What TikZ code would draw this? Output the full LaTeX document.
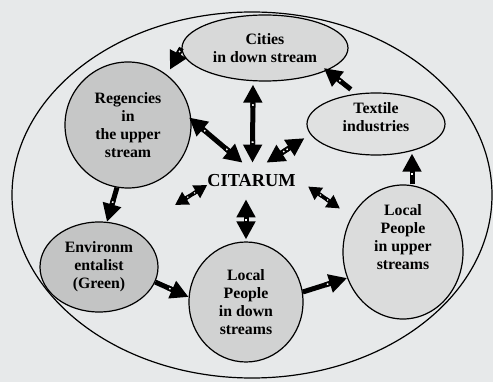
\documentclass[tikz,border=0pt]{standalone}
\usepackage{fontspec}
\setmainfont{Liberation Serif}
\usetikzlibrary{arrows.meta,shapes.geometric}
\definecolor{bg}{HTML}{E7E9EA}
\definecolor{cityc}{HTML}{D8D9D9}
\definecolor{regc}{HTML}{C6C7C7}
\definecolor{texc}{HTML}{E0E1E1}
\definecolor{envc}{HTML}{C3C4C4}
\definecolor{lpdc}{HTML}{D1D2D2}
\definecolor{lpuc}{HTML}{DBDCDC}
\begin{document}
\begin{tikzpicture}[x=1pt,y=-1pt,
  txt/.style={font=\bfseries\fontsize{15.8}{18}\selectfont, align=center, inner sep=0pt},
  blob/.style={draw=black, line width=1.2pt, inner sep=0pt, txt},
  arr/.style={line width=5pt, -{Rectangle[length=5pt,width=5pt,fill=white,line width=1.6pt] Triangle[length=18pt,width=18pt]}},
  darr/.style={line width=5pt, {Triangle[length=18pt,width=18pt] Rectangle[length=5pt,width=5pt,fill=white,line width=1.6pt]}-{Rectangle[length=5pt,width=5pt,fill=white,line width=1.6pt] Triangle[length=18pt,width=18pt]}},
  sdarr/.style={line width=3.8pt, {Triangle[length=13pt,width=14pt] Rectangle[length=4pt,width=3.8pt,fill=white,line width=1.2pt]}-{Rectangle[length=4pt,width=3.8pt,fill=white,line width=1.2pt] Triangle[length=13pt,width=14pt]}}
]
\fill[bg] (0,0) rectangle (493,382);
\useasboundingbox (0,0) rectangle (493,382);
\draw[line width=1.2pt] (252,195) ellipse [x radius=240pt, y radius=183pt];

\node[blob, ellipse, fill=cityc, minimum width=166pt, minimum height=66pt] (C) at (265,48) {Cities\\in down stream};
\node[blob, circle, fill=regc, minimum size=126pt] (R) at (128,125) {Regencies\\in\\the upper\\stream};
\node[blob, ellipse, fill=texc, minimum width=138pt, minimum height=62pt,
  label={[txt, yshift=7pt]center:{Textile\\industries}}] (T) at (376,124) {};
\node[blob, ellipse, fill=envc, minimum width=118pt, minimum height=90pt] (E) at (99,267) {Environm\\entalist\\(Green)};
\node[blob, ellipse, fill=lpdc, minimum width=114pt, minimum height=120pt] (D) at (246,302) {Local\\People\\in down\\streams};
\node[blob, ellipse, fill=lpuc, minimum width=120pt, minimum height=134pt,
  label={[txt, yshift=15pt]center:{Local\\People\\in upper\\streams}}] (U) at (403,252) {};
\node[font=\bfseries\fontsize{18.3}{20}\selectfont, inner xsep=0pt, inner ysep=12pt] (M) at (251.5,181) {CITARUM};
\coordinate (fl) at (175,205);

\draw[arr, shorten >=6pt] (C.west) -- (R.52);
\draw[arr, shorten <=7pt, shorten >=-4pt] (T.123) -- (C.-20);
\draw[darr, shorten <=-3pt] (R.5) -- ([xshift=-9pt]M.north);
\draw[darr, shorten <=3pt] ([xshift=-12pt]C.south) -- ([xshift=1pt]M.north);
\draw[darr, shorten <=7pt] (T.189) -- ([xshift=15pt]M.north);
\draw[sdarr] ([yshift=-4pt]M.west) -- (fl);
\draw[darr, shorten <=2pt] (D.north) -- ([xshift=-5.5pt]M.south);
\draw[sdarr, shorten <=15pt, shorten >=14pt] ([yshift=3pt]M.east) -- (U);
\draw[arr] (R.260) -- (E.80);
\draw[arr] (E.-15) -- (D.175);
\draw[arr] (D.10) -- (U.205);
\draw[arr, shorten >=-2pt] ([xshift=9pt]U.north) -- ([xshift=36pt]T.south);
\end{tikzpicture}
\end{document}
